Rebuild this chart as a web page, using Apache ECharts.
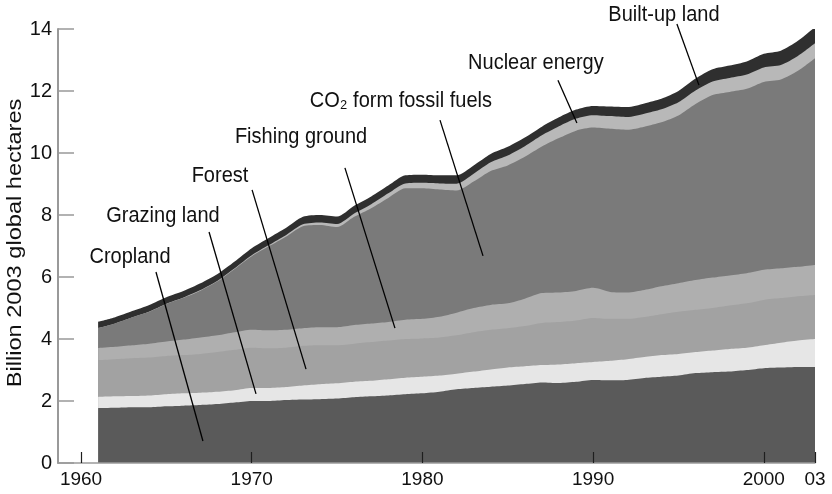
<!DOCTYPE html>
<html>
<head>
<meta charset="utf-8">
<script src="https://cdn.jsdelivr.net/npm/echarts@6/dist/echarts.min.js"></script>
<style>html,body{margin:0;padding:0;background:#fff;}#c{width:832px;height:494px;}</style>
</head>
<body>
<div id="c"></div>
<script>
const years = [1961,1962,1963,1964,1965,1966,1967,1968,1969,1970,
  1971,1972,1973,1974,1975,1976,1977,1978,1979,1980,
  1981,1982,1983,1984,1985,1986,1987,1988,1989,1990,
  1991,1992,1993,1994,1995,1996,1997,1998,1999,2000,
  2001,2002,2003];
const cropland = [1.77,1.78,1.80,1.80,1.83,1.85,1.87,1.90,1.95,2.00,
  2.00,2.03,2.05,2.06,2.08,2.12,2.15,2.18,2.22,2.25,
  2.30,2.38,2.42,2.46,2.50,2.55,2.60,2.58,2.62,2.68,
  2.67,2.68,2.74,2.78,2.82,2.90,2.93,2.95,3.00,3.06,
  3.08,3.10,3.10];
const grazing = [0.36,0.37,0.36,0.38,0.39,0.40,0.40,0.40,0.40,0.42,
  0.42,0.42,0.45,0.48,0.49,0.50,0.50,0.52,0.53,0.53,
  0.52,0.50,0.53,0.56,0.58,0.57,0.56,0.60,0.60,0.58,
  0.63,0.67,0.68,0.70,0.70,0.68,0.70,0.73,0.72,0.74,
  0.80,0.85,0.90];
const forest = [1.19,1.20,1.22,1.22,1.23,1.23,1.25,1.28,1.30,1.30,
  1.28,1.27,1.28,1.26,1.23,1.23,1.25,1.25,1.25,1.24,
  1.23,1.24,1.27,1.28,1.27,1.30,1.36,1.37,1.38,1.42,
  1.35,1.30,1.29,1.32,1.36,1.36,1.37,1.40,1.43,1.46,
  1.44,1.43,1.42];
const fishing = [0.39,0.40,0.42,0.45,0.47,0.50,0.53,0.54,0.57,0.58,
  0.58,0.58,0.57,0.58,0.58,0.60,0.60,0.60,0.62,0.63,
  0.67,0.73,0.78,0.80,0.80,0.88,0.96,0.95,0.95,0.97,
  0.87,0.85,0.87,0.90,0.92,0.96,0.98,0.97,0.97,0.97,
  0.96,0.95,0.97];
const co2 = [0.64,0.75,0.90,1.03,1.21,1.35,1.51,1.74,2.04,2.37,
  2.71,3.00,3.29,3.30,3.23,3.49,3.72,4.00,4.24,4.21,
  4.10,3.94,4.08,4.32,4.45,4.58,4.73,4.98,5.17,5.17,
  5.26,5.25,5.27,5.29,5.41,5.68,5.89,5.92,5.95,6.06,
  6.09,6.32,6.67];
const nuclear = [0,0,0,0.01,0.01,0.01,0.02,0.02,0.02,0.03,
  0.04,0.05,0.06,0.08,0.10,0.11,0.13,0.15,0.16,0.18,
  0.20,0.22,0.25,0.28,0.32,0.34,0.36,0.38,0.39,0.40,
  0.41,0.41,0.42,0.42,0.43,0.44,0.44,0.45,0.46,0.47,
  0.47,0.48,0.48];
const builtUp = [0.20,0.20,0.20,0.21,0.21,0.21,0.22,0.22,0.22,0.23,
  0.23,0.23,0.24,0.24,0.24,0.25,0.25,0.25,0.26,0.26,
  0.26,0.27,0.27,0.27,0.28,0.28,0.28,0.29,0.29,0.30,
  0.31,0.32,0.33,0.34,0.36,0.38,0.39,0.40,0.42,0.44,
  0.46,0.49,0.52];
const xTicks = [1960,1970,1980,1990,2000,2003];
const yTitle = 'Billion 2003 global hectares';

// annotation labels: label anchor (year,value), leader start, leader end
const annNames = ['Cropland','Grazing land','Forest','Fishing ground','CO\u2082 form fossil fuels','Nuclear energy','Built-up land'];
const annLabelPos = [[1962.87,6.65],[1964.80,7.97],[1968.14,9.26],[1972.89,10.52],[1978.74,11.68],[1986.65,12.90],[1994.15,14.45]];
const annLineFrom = [[1964.39,6.16],[1967.50,7.45],[1970.02,8.81],[1975.46,9.52],[1981.03,11.06],[1987.94,12.35],[1994.91,14.16]];
const annLineTo = [[1967.14,0.71],[1970.25,2.23],[1973.18,3.03],[1978.39,4.35],[1983.55,6.68],[1989.05,10.97],[1996.20,12.19]];

const FONT = '"Liberation Sans", Arial, Helvetica, sans-serif';
const layers = [
  {name:'Cropland', data:cropland, color:'#5a5a5a'},
  {name:'Grazing land', data:grazing, color:'#e6e6e6'},
  {name:'Forest', data:forest, color:'#a2a2a2'},
  {name:'Fishing ground', data:fishing, color:'#afafaf'},
  {name:'CO2 from fossil fuels', data:co2, color:'#7a7a7a'},
  {name:'Nuclear energy', data:nuclear, color:'#b8b8b8'},
  {name:'Built-up land', data:builtUp, color:'#2f2f2f'}
];

// cumulative tops of each layer (stack computed here)
const running = years.map(() => 0);
const stacked = layers.map(l => {
  const tops = l.data.map((v,i) => (running[i] = +(running[i] + v).toFixed(3)));
  return {name:l.name, color:l.color, tops:tops};
});

const chart = echarts.init(document.getElementById('c'), null, {renderer:'canvas'});
chart.setOption({
  animation:false,
  backgroundColor:'#fff',
  grid:{left:58, right:17, top:29, bottom:31},
  xAxis:{
    type:'value', min:1958.65, max:2003, z:20,
    axisLine:{show:true, lineStyle:{color:'#9a9a9a', width:1.5}},
    axisTick:{show:true, inside:true, length:11, customValues:xTicks, lineStyle:{color:'#1e1e1e', width:1.2}},
    axisLabel:{customValues:xTicks, margin:7, fontSize:19, fontFamily:FONT, color:'#111',
      formatter:v => v === 2003 ? '03' : String(v)},
    splitLine:{show:false}
  },
  yAxis:{
    type:'value', min:0, max:14, interval:2, z:20,
    axisLine:{show:true, lineStyle:{color:'#999', width:2}},
    axisTick:{show:true, inside:true, length:16, lineStyle:{color:'#999', width:1.5}},
    axisLabel:{margin:6, fontSize:20, fontFamily:FONT, color:'#111'},
    splitLine:{show:false}
  },
  // paint from the top layer down so every lower layer covers the one above's base
  series: stacked.slice().reverse().map((s,k) => ({
    name:s.name, type:'line', smooth:0.25, symbol:'none', z:2 + k,
    lineStyle:{width:0}, areaStyle:{color:s.color, opacity:1, origin:'start'},
    data: years.map((y,i) => [y, s.tops[i]])
  }))
});

const graphics = [];
graphics.push({
  type:'text', x:15, y:243, rotation:Math.PI/2, scaleX:1.18,
  style:{text:yTitle, fontSize:20, fontFamily:FONT, fill:'#111', align:'center', verticalAlign:'middle'}
});
annNames.forEach((n,i) => {
  const p = chart.convertToPixel({gridIndex:0}, annLabelPos[i]);
  const a = chart.convertToPixel({gridIndex:0}, annLineFrom[i]);
  const b = chart.convertToPixel({gridIndex:0}, annLineTo[i]);
  graphics.push({type:'line', z:30, shape:{x1:a[0], y1:a[1], x2:b[0], y2:b[1]}, style:{stroke:'#000', lineWidth:1.3}});
  graphics.push({type:'text', z:30, x:p[0], y:p[1], scaleY:1.06,
    style:{text:n, fontSize:20, fontFamily:FONT, fill:'#111', align:'center', verticalAlign:'middle'}});
});
chart.setOption({graphic:graphics});
</script>
</body>
</html>
